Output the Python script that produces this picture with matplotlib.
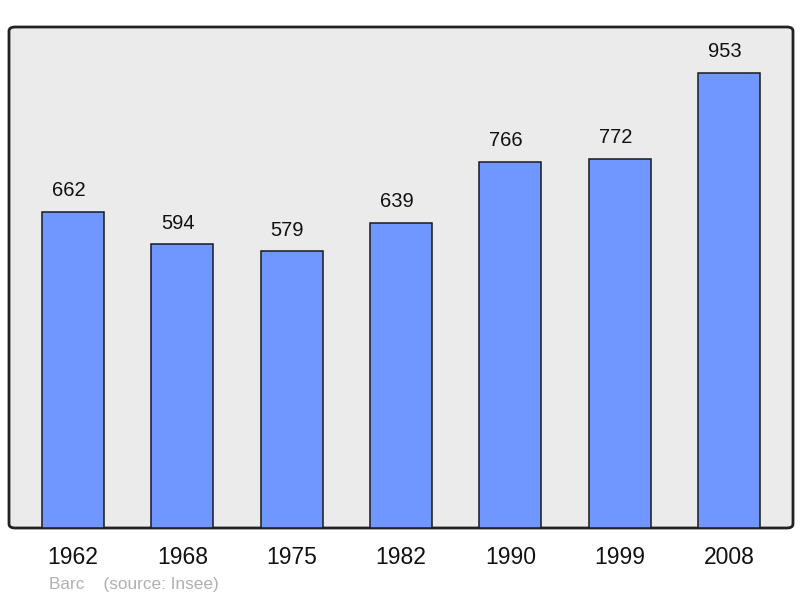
import matplotlib.pyplot as plt
from matplotlib.patches import FancyBboxPatch

years = ['1962', '1968', '1975', '1982', '1990', '1999', '2008']
population = [662, 594, 579, 639, 766, 772, 953]

plt.rcParams['font.family'] = ['Liberation Sans', 'DejaVu Sans']

fig = plt.figure(figsize=(8, 5.98), dpi=100)
# axes box in pixels: left 9, right 793, top 27, bottom 528
ax = fig.add_axes([9 / 800, 1 - 528 / 598, 784 / 800, 501 / 598])
ax.set_xlim(-0.585, 6.585)
ax.set_ylim(0, 1049)
ax.axis('off')

# rounded frame of the plot area
frame = FancyBboxPatch((0, 0), 1, 1, boxstyle="round,pad=0,rounding_size=0.008",
                       transform=ax.transAxes, facecolor='#ebebeb',
                       edgecolor='#222222', linewidth=2, clip_on=False, zorder=0)
ax.add_patch(frame)

pos = range(len(years))
ax.bar(pos, population, width=0.567, color='#7097ff', edgecolor='#1a1a1a',
       linewidth=1.1, zorder=2)

for i, v in zip(pos, population):
    ax.annotate(str(v), (i, v), xytext=(-3, 8.5), textcoords='offset points',
                ha='center', va='bottom', fontsize=14.5, color='#111111')
    ax.annotate(years[i], (i, 0), xytext=(0, -21), textcoords='offset points',
                ha='center', va='center', fontsize=16.5, color='#111111',
                annotation_clip=False)

fig.text(49 / 800, 1 - 584 / 598, 'Barc    (source: Insee)', fontsize=12.4,
         color='#b0b0b0', va='center', ha='left')

fig.savefig('out.png', dpi=100, facecolor='white')
